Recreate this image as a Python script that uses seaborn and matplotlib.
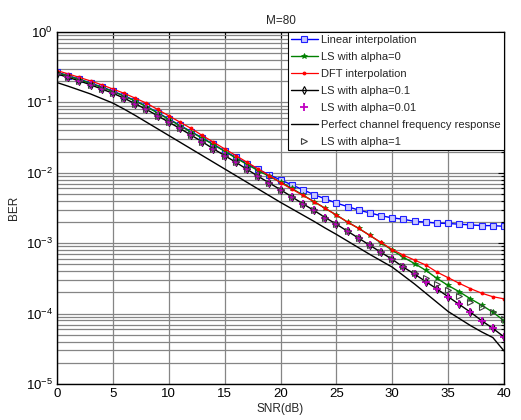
import numpy as np
import pandas as pd
import matplotlib
matplotlib.use("Agg")
import matplotlib.pyplot as plt
import seaborn as sns
from matplotlib.ticker import LogLocator, FixedLocator, NullFormatter

snr = list(range(0, 41))

# log10(BER) values
linear_log10 = [-0.570, -0.620, -0.670, -0.725, -0.780, -0.840, -0.905, -0.975, -1.055, -1.145,
                -1.235, -1.325, -1.415, -1.505, -1.595, -1.690, -1.780, -1.870, -1.950, -2.030,
                -2.100, -2.170, -2.240, -2.310, -2.370, -2.430, -2.480, -2.530, -2.570, -2.610,
                -2.640, -2.660, -2.690, -2.700, -2.715, -2.720, -2.730, -2.740, -2.750, -2.750, -2.760]
ls0_log10 = [-0.576, -0.625, -0.675, -0.730, -0.785, -0.845, -0.910, -0.980, -1.060, -1.150,
             -1.240, -1.330, -1.420, -1.510, -1.600, -1.695, -1.790, -1.880, -1.970, -2.050,
             -2.130, -2.220, -2.315, -2.410, -2.505, -2.600, -2.700, -2.790, -2.890, -2.995,
             -3.100, -3.200, -3.290, -3.385, -3.500, -3.600, -3.690, -3.790, -3.880, -3.980, -4.100]
dft_log10 = [-0.548, -0.595, -0.645, -0.695, -0.750, -0.810, -0.870, -0.940, -1.010, -1.100,
             -1.190, -1.280, -1.370, -1.470, -1.565, -1.660, -1.755, -1.850, -1.945, -2.040,
             -2.140, -2.230, -2.320, -2.410, -2.505, -2.600, -2.700, -2.790, -2.890, -2.990,
             -3.090, -3.170, -3.240, -3.310, -3.410, -3.490, -3.570, -3.645, -3.710, -3.760, -3.790]
ls01_log10 = [-0.595, -0.645, -0.695, -0.750, -0.810, -0.870, -0.940, -1.020, -1.100, -1.190,
              -1.280, -1.370, -1.465, -1.560, -1.660, -1.755, -1.850, -1.950, -2.050, -2.145,
              -2.240, -2.340, -2.440, -2.535, -2.635, -2.730, -2.830, -2.930, -3.030, -3.130,
              -3.230, -3.340, -3.440, -3.545, -3.650, -3.760, -3.870, -3.980, -4.100, -4.210, -4.330]
ls001_log10 = [-0.595, -0.645, -0.695, -0.750, -0.810, -0.870, -0.940, -1.020, -1.100, -1.190,
               -1.280, -1.370, -1.465, -1.560, -1.660, -1.755, -1.850, -1.950, -2.050, -2.145,
               -2.240, -2.340, -2.440, -2.535, -2.635, -2.730, -2.830, -2.930, -3.030, -3.130,
               -3.230, -3.340, -3.440, -3.545, -3.650, -3.760, -3.870, -3.980, -4.100, -4.210, -4.330]
perfect_log10 = [-0.718, -0.770, -0.825, -0.880, -0.945, -1.010, -1.095, -1.185, -1.280, -1.375,
                 -1.470, -1.565, -1.660, -1.755, -1.850, -1.945, -2.040, -2.135, -2.230, -2.325,
                 -2.420, -2.510, -2.600, -2.690, -2.785, -2.875, -2.970, -3.065, -3.160, -3.250,
                 -3.340, -3.460, -3.580, -3.710, -3.840, -3.970, -4.070, -4.170, -4.260, -4.340, -4.530]
ls1_log10 = [-0.595, -0.645, -0.695, -0.750, -0.810, -0.870, -0.940, -1.020, -1.100, -1.190,
             -1.280, -1.370, -1.465, -1.560, -1.660, -1.755, -1.850, -1.950, -2.050, -2.145,
             -2.240, -2.340, -2.440, -2.535, -2.635, -2.730, -2.830, -2.930, -3.030, -3.130,
             -3.230, -3.320, -3.420, -3.500, -3.580, -3.670, -3.750, -3.830, -3.910, -3.980, -4.070]

labels = ["Linear interpolation", "LS with alpha=0", "DFT interpolation", "LS with alpha=0.1",
          "LS with alpha=0.01", "Perfect channel frequency response", "LS with alpha=1"]
title = "M=80"
xlabel = "SNR(dB)"
ylabel = "BER"

sns.set_style("white")
plt.rcParams["font.family"] = ["Liberation Sans", "DejaVu Sans"]
plt.rcParams["mathtext.default"] = "regular"

fig = plt.figure(figsize=(5.21, 4.20), dpi=100)
ax = fig.add_axes([57/521, 1-384/420, (504-57)/521, (384-32)/420])

series = [
    (linear_log10, dict(color="#0000ff", marker="s", linestyle="-", markersize=4.2,
                        markerfacecolor="#c8c8ff", markeredgecolor="#2020ff", markeredgewidth=0.8, linewidth=1.0)),
    (ls0_log10, dict(color="#008000", marker="*", linestyle="-", markersize=4.0,
                     markerfacecolor="#008000", markeredgecolor="#008000", markeredgewidth=0.5, linewidth=1.0)),
    (dft_log10, dict(color="#ff0000", marker=".", linestyle="-", markersize=4.0,
                     markerfacecolor="#ff0000", markeredgecolor="#ff0000", linewidth=0.9)),
    (ls01_log10, dict(color="#000000", marker="d", linestyle="-", markersize=4,
                      markerfacecolor="none", markeredgecolor="#000000", markeredgewidth=0.8, linewidth=1.0)),
    (ls001_log10, dict(color="#c000c0", marker="+", linestyle="", markersize=6,
                       markeredgecolor="#c000c0", markeredgewidth=1.3)),
    (perfect_log10, dict(color="#000000", marker=None, linestyle="-", linewidth=1.0)),
    (ls1_log10, dict(color="#505050", marker=">", linestyle="", markersize=4.5,
                     markerfacecolor="none", markeredgecolor="#404040", markeredgewidth=0.8)),
]

for (vals, kw), lab in zip(series, labels):
    df = pd.DataFrame({"SNR": snr, "BER": np.power(10.0, np.array(vals))})
    sns.lineplot(data=df, x="SNR", y="BER", ax=ax, label=lab, **kw)

ax.set_yscale("log")
ax.set_xlim(0, 40)
ax.set_ylim(1e-5, 1)
ax.xaxis.set_major_locator(FixedLocator(list(range(0, 41, 5))))
ax.yaxis.set_major_locator(LogLocator(base=10, numticks=10))
ax.yaxis.set_minor_locator(LogLocator(base=10, subs=np.arange(2, 10), numticks=20))
ax.yaxis.set_minor_formatter(NullFormatter())

ax.grid(True, which="major", axis="x", color="#858585", linewidth=0.9, linestyle="-")
ax.grid(True, which="both", axis="y", color="#858585", linewidth=0.9, linestyle="-")
ax.set_axisbelow(True)

ax.tick_params(axis="both", which="both", direction="in", top=True, right=True,
               labelsize=9.5, colors="black", length=4, width=0.8, pad=3)
ax.tick_params(axis="y", which="minor", length=2)
for s in ax.spines.values():
    s.set_visible(True)
    s.set_color("black")
    s.set_linewidth(1.0)

ax.set_xlabel(xlabel, fontsize=8.5, labelpad=2)
ax.set_ylabel(ylabel, fontsize=8.5, labelpad=4)
ax.set_title(title, fontsize=8.5, pad=6)

leg = ax.legend(loc="upper right", fontsize=8, frameon=True, fancybox=False,
                edgecolor="black", framealpha=1, borderpad=0.3, labelspacing=0.62,
                handlelength=2.4, handletextpad=0.3, borderaxespad=0.0)
leg.get_frame().set_linewidth(0.8)

fig.savefig("out.png", dpi=100)
